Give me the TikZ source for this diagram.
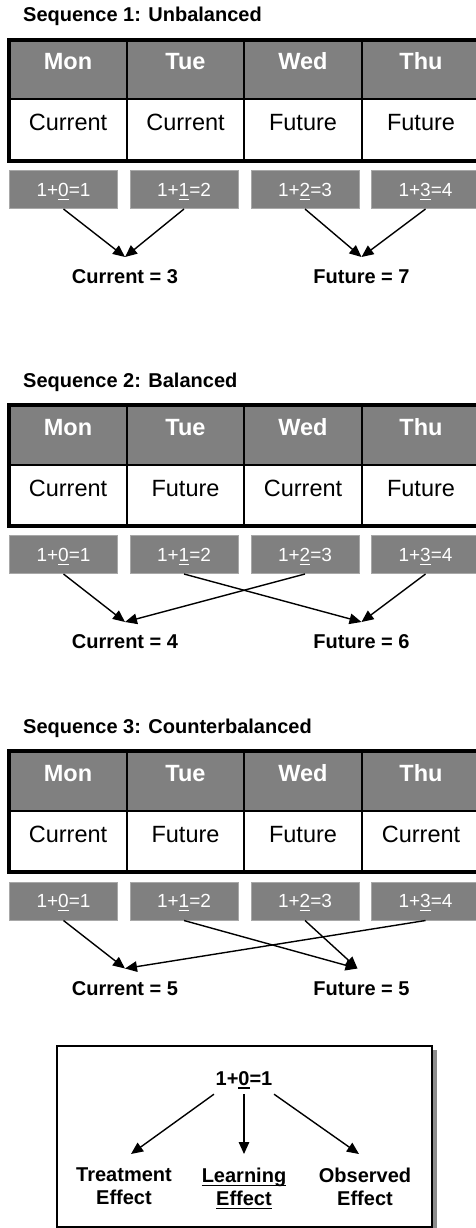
\documentclass[tikz,border=0pt]{standalone}
\usepackage{fontspec}
\setmainfont{Liberation Sans}
\usetikzlibrary{arrows.meta,calc}
\definecolor{cellgray}{HTML}{808080}
\definecolor{boxedge}{HTML}{A8A8A8}
\definecolor{shadowgray}{HTML}{8C8C8C}
\newcommand{\digul}[1]{\setbox0\hbox{#1}\rlap{\rule[-3.6pt]{\wd0}{1.4pt}}\box0}
\tikzset{
  seqtitle/.style={anchor=base west, inner sep=0pt, font=\fontsize{20}{24}\selectfont\bfseries},
  dayhead/.style={anchor=base, inner sep=0pt, text=white, font=\fontsize{23.5}{28}\selectfont\bfseries},
  daycell/.style={anchor=base, inner sep=0pt, font=\fontsize{23.5}{28}\selectfont},
  calcbox/.style={draw=boxedge, line width=1pt, fill=cellgray, text=white, minimum width=108pt, minimum height=38pt, inner sep=0pt, text height=13.6pt, text depth=0pt, font=\fontsize{19}{23}\selectfont},
  total/.style={anchor=north, inner xsep=0pt, inner ysep=12pt, text height=14.6pt, text depth=0pt, font=\fontsize{20}{24}\selectfont\bfseries},
  effect/.style={anchor=north, align=center, inner xsep=0pt, inner ysep=14pt, font=\fontsize{20}{23}\selectfont\bfseries},
  arr/.style={-{Triangle[length=12pt,width=10.5pt]}, line width=1.4pt},
}
% #1 prefix, #2 title, #3..#6 cells, #7 vertical offset
\newcommand{\seqblock}[7]{%
  \begin{scope}[yshift=-#7pt]
    \node[seqtitle] (#1title) at (23,22) {#2};
    \fill[cellgray] (9,39.7) rectangle (480,99.5);
    \draw[line width=2pt] (9,99.5) -- (480,99.5);
    \foreach \xx in {127,244,362} \draw[line width=2pt] (\xx,39.7) -- (\xx,160.5);
    \draw[line width=4pt] (9,39.7) rectangle (480,160.5);
    \node[dayhead] (#1h1) at (68,70) {Mon};
    \node[dayhead] (#1h2) at (185.5,70) {Tue};
    \node[dayhead] (#1h3) at (303,70) {Wed};
    \node[dayhead] (#1h4) at (421,70) {Thu};
    \node[daycell] (#1c1) at (68,131) {#3};
    \node[daycell] (#1c2) at (185.5,131) {#4};
    \node[daycell] (#1c3) at (303,131) {#5};
    \node[daycell] (#1c4) at (421,131) {#6};
    \node[calcbox] (#1b1) at (63.5,189.5) {1+\digul{0}=1};
    \node[calcbox] (#1b2) at (184,189.5) {1+\digul{1}=2};
    \node[calcbox] (#1b3) at (305,189.5) {1+\digul{2}=3};
    \node[calcbox] (#1b4) at (425.5,189.5) {1+\digul{3}=4};
  \end{scope}}
\begin{document}
\begin{tikzpicture}[x=1pt,y=-1pt]
  \useasboundingbox (0,0) rectangle (476,1228);
  \clip (0,0) rectangle (476,1228);
  \fill[white] (0,0) rectangle (476,1228);

  % Sequence 1
  \seqblock{s1}{Sequence 1: Unbalanced}{Current}{Current}{Future}{Future}{0}
  \node[total] (s1cur) at (125,257) {Current = 3};
  \node[total] (s1fut) at (361.5,257) {Future = 7};
  \draw[arr] (s1b1.south) -- (s1cur.north);
  \draw[arr] (s1b2.south) -- (s1cur.north);
  \draw[arr] (s1b3.south) -- (s1fut.north);
  \draw[arr] (s1b4.south) -- (s1fut.north);

  % Sequence 2
  \seqblock{s2}{Sequence 2: Balanced}{Current}{Future}{Current}{Future}{365}
  \node[total] (s2cur) at (125,622) {Current = 4};
  \node[total] (s2fut) at (361.5,622) {Future = 6};
  \draw[arr] (s2b1.south) -- (s2cur.north);
  \draw[arr] (s2b3.south) -- (s2cur.north);
  \draw[arr] (s2b2.south) -- (s2fut.north);
  \draw[arr] (s2b4.south) -- (s2fut.north);

  % Sequence 3
  \seqblock{s3}{Sequence 3: Counterbalanced}{Current}{Future}{Future}{Current}{711.5}
  \node[total] (s3cur) at (125,968.5) {Current = 5};
  \node[total] (s3fut) at (361.5,968.5) {Future = 5};
  \draw[arr] (s3b1.south) -- (s3cur.north);
  \draw[arr] (s3b4.south) -- (s3cur.north);
  \draw[arr] (s3b2.south) -- ($(s3fut.north)+(-4,0)$);
  \draw[arr] (s3b3.south) -- ($(s3fut.north)+(-4,0)$);

  % Legend box
  \fill[shadowgray] (61,1050) rectangle (437,1232);
  \draw[fill=white, line width=1.3pt] (57,1046) rectangle (432,1227);
  \node[anchor=base, inner xsep=1.5pt, inner ysep=9pt, text height=14pt, text depth=0pt, font=\fontsize{20}{23}\selectfont\bfseries] (eq) at (244,1085) {1+\digul{0}=1};
  \node[effect] (te) at (124,1154) {Treatment\\Effect};
  \node[effect] (le) at (244,1154) {\digul{Learning}\\\digul{Effect}};
  \node[effect] (oe) at (365,1154) {Observed\\Effect};
  \draw[arr] (eq.south west) -- ($(te.north)+(7,0)$);
  \draw[arr] (eq.south) -- (le.north);
  \draw[arr] (eq.south east) -- ($(oe.north)+(-6,0)$);
\end{tikzpicture}
\end{document}
